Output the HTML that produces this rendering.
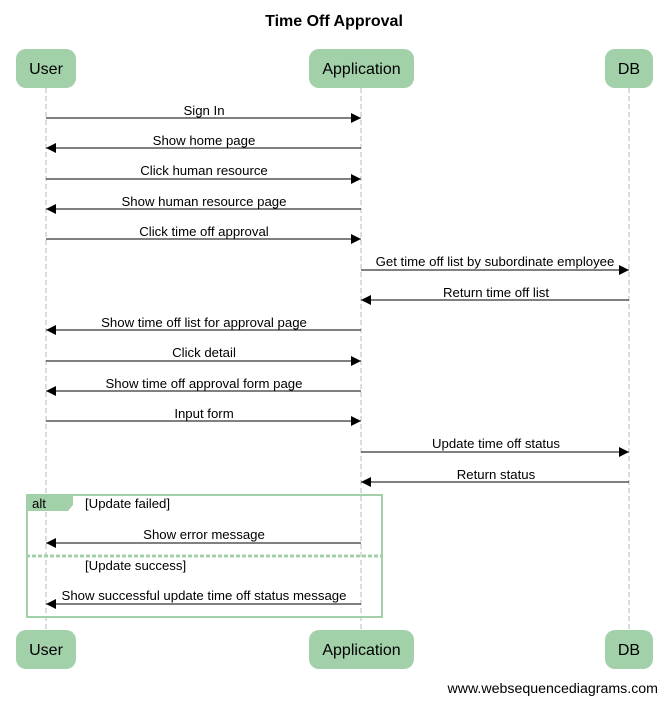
<!DOCTYPE html>
<html><head><style>body{margin:0;background:#fff}</style></head><body>
<svg width="668" height="703" xmlns="http://www.w3.org/2000/svg" font-family="Liberation Sans, Arial, sans-serif">
<defs><marker id="a" markerWidth="10" markerHeight="10" refX="10" refY="5" orient="auto" markerUnits="userSpaceOnUse"><path d="M0,0L10,5L0,10z" fill="#000"/></marker></defs>
<text x="334" y="26" font-size="16" font-weight="bold" text-anchor="middle">Time Off Approval</text>
<g stroke="#bbb" stroke-dasharray="5,3"><line x1="46" y1="88" x2="46" y2="630"/><line x1="361" y1="88" x2="361" y2="630"/><line x1="629" y1="88" x2="629" y2="630"/></g>
<g fill="#a2d0a9">
<rect x="16" y="49" width="60" height="39" rx="10"/><rect x="309" y="49" width="105" height="39" rx="10"/><rect x="605" y="49" width="48" height="39" rx="10"/>
<rect x="16" y="630" width="60" height="39" rx="10"/><rect x="309" y="630" width="105" height="39" rx="10"/><rect x="605" y="630" width="48" height="39" rx="10"/>
</g>
<g font-size="16" text-anchor="middle"><text x="46" y="74">User</text><text x="361.5" y="74">Application</text><text x="629" y="74">DB</text>
<text x="46" y="655">User</text><text x="361.5" y="655">Application</text><text x="629" y="655">DB</text></g>
<g stroke="#000" stroke-width="1" marker-end="url(#a)">
<line x1="46" y1="118" x2="361" y2="118"/><line x1="361" y1="148" x2="46" y2="148"/><line x1="46" y1="179" x2="361" y2="179"/><line x1="361" y1="209" x2="46" y2="209"/><line x1="46" y1="239" x2="361" y2="239"/>
<line x1="361" y1="270" x2="629" y2="270"/><line x1="629" y1="300" x2="361" y2="300"/><line x1="361" y1="330" x2="46" y2="330"/><line x1="46" y1="361" x2="361" y2="361"/><line x1="361" y1="391" x2="46" y2="391"/><line x1="46" y1="421" x2="361" y2="421"/>
<line x1="361" y1="452" x2="629" y2="452"/><line x1="629" y1="482" x2="361" y2="482"/><line x1="361" y1="543" x2="46" y2="543"/><line x1="361" y1="604" x2="46" y2="604"/>
</g>
<g font-size="13.2" text-anchor="middle">
<text x="204" y="115">Sign In</text><text x="204" y="145">Show home page</text><text x="204" y="175">Click human resource</text><text x="204" y="206">Show human resource page</text><text x="204" y="236">Click time off approval</text>
<text x="495" y="266">Get time off list by subordinate employee</text><text x="496" y="297">Return time off list</text><text x="204" y="327">Show time off list for approval page</text><text x="204" y="357">Click detail</text><text x="204" y="388">Show time off approval form page</text><text x="204" y="418">Input form</text>
<text x="496" y="448">Update time off status</text><text x="496" y="479">Return status</text><text x="204" y="539">Show error message</text><text x="204" y="600">Show successful update time off status message</text>
</g>
<rect x="27" y="495" width="355" height="122" fill="none" stroke="#a2d0a9" stroke-width="2"/>
<path d="M26,494H73V505L68,511H26z" fill="#a2d0a9"/>
<line x1="26" y1="556" x2="382" y2="556" stroke="#a2d0a9" stroke-width="3" stroke-dasharray="4,2"/>
<g font-size="13.2"><text x="32" y="508">alt</text><text x="85" y="508">[Update failed]</text><text x="85" y="570">[Update success]</text></g>
<text x="658" y="693" font-size="14.2" text-anchor="end">www.websequencediagrams.com</text>
</svg>
</body></html>
